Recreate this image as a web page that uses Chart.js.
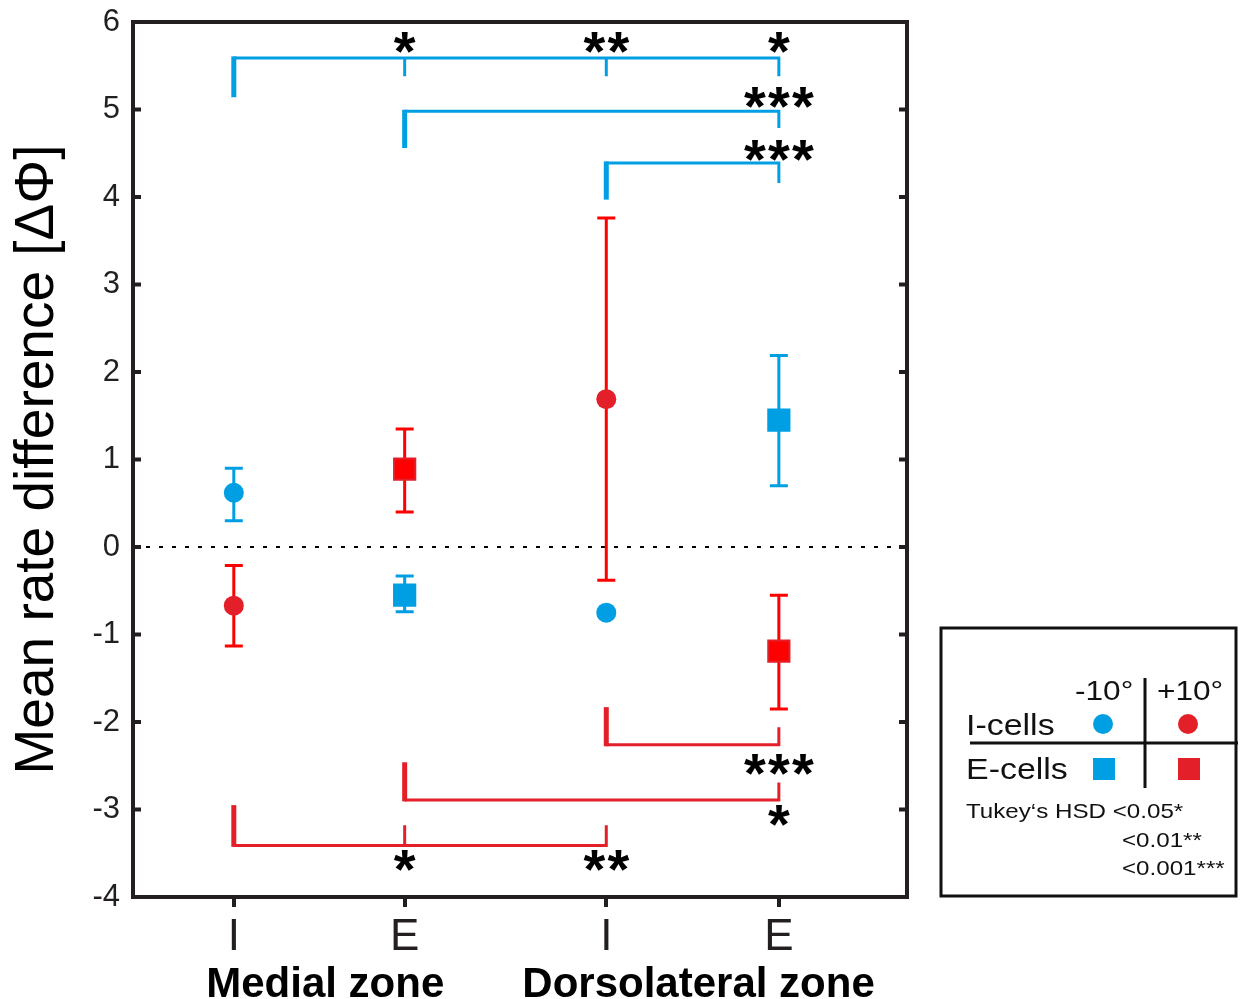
<!DOCTYPE html>
<html>
<head>
<meta charset="utf-8">
<script src="https://cdn.jsdelivr.net/npm/chart.js@4.4.1/dist/chart.umd.min.js"></script>
<style>
  body { margin: 0; background: #fff; }
  #wrap { width: 1240px; height: 999px; }
</style>
</head>
<body>
<div id="wrap"><canvas id="chart" width="1240" height="999"></canvas></div>
<script>
// x axis: cell type inside each zone
const categories = ['I', 'E', 'I', 'E'];
const xPos = [1, 2, 3.18, 4.19];
const zones = ['Medial zone', 'Dorsolateral zone'];

// I-cells (circles): medial I, dorsolateral I
const iCats = [0, 2];
const iMinus = [0.62, -0.75];      // -10°
const iMinusLo = [0.30, -0.75];
const iMinusHi = [0.90, -0.75];
const iPlus = [-0.67, 1.69];       // +10°
const iPlusLo = [-1.13, -0.38];
const iPlusHi = [-0.21, 3.76];

// E-cells (squares): medial E, dorsolateral E
const eCats = [1, 3];
const eMinus = [-0.55, 1.45];      // -10°
const eMinusLo = [-0.74, 0.70];
const eMinusHi = [-0.33, 2.19];
const ePlus = [0.89, -1.19];       // +10°
const ePlusLo = [0.40, -1.85];
const ePlusHi = [1.35, -0.55];

// comparison brackets: [from, to, level, start end, far end, middle ticks]
const blueBrackets = [
  [0, 3, 5.59, 5.14, 5.38, [1, 2]],
  [1, 3, 4.98, 4.56, 4.79, []],
  [2, 3, 4.39, 3.97, 4.16, []]
];
const redBrackets = [
  [2, 3, -2.26, -1.83, -2.06, []],
  [1, 3, -2.89, -2.46, -2.69, []],
  [0, 2, -3.41, -2.95, -3.18, [1]]
];
// significance marks: [category, y, text]
const stars = [
  [1, 5.77, '*'], [2, 5.77, '**'], [3, 5.77, '*'],
  [3, 5.14, '***'], [3, 4.53, '***'],
  [3, -2.48, '***'], [3, -3.07, '*'],
  [1, -3.58, '*'], [2, -3.58, '**']
];

const FONT = "'Liberation Sans', Arial, Helvetica, sans-serif";
const BLUE = '#009fe3';
const RED = '#e3202a';
const RED_BAR = '#ff0000';
const INK = '#231f20';

const series = [
  { label: 'I-cells -10°', cats: iCats, vals: iMinus, lo: iMinusLo, hi: iMinusHi, fill: BLUE, edge: BLUE, bar: BLUE, style: 'circle', r: 10 },
  { label: 'I-cells +10°', cats: iCats, vals: iPlus, lo: iPlusLo, hi: iPlusHi, fill: RED, edge: RED, bar: RED_BAR, style: 'circle', r: 10 },
  { label: 'E-cells -10°', cats: eCats, vals: eMinus, lo: eMinusLo, hi: eMinusHi, fill: BLUE, edge: BLUE, bar: BLUE, style: 'rect', r: 15 },
  { label: 'E-cells +10°', cats: eCats, vals: ePlus, lo: ePlusLo, hi: ePlusHi, fill: RED_BAR, edge: RED, bar: RED_BAR, style: 'rect', r: 15 }
];

function wideText(ctx, text, x, y, sx) {
  ctx.save();
  ctx.translate(x, y);
  ctx.scale(sx, 1);
  ctx.fillText(text, 0, 0);
  ctx.restore();
}

// error bars, zero line and brackets under the markers
const underPlugin = {
  id: 'under',
  beforeDatasetsDraw(chart) {
    const ctx = chart.ctx;
    const xs = chart.scales.x, ys = chart.scales.y;
    const area = chart.chartArea;
    ctx.save();

    // dotted zero line
    ctx.strokeStyle = '#000';
    ctx.lineWidth = 2;
    ctx.setLineDash([4, 9]);
    ctx.beginPath();
    ctx.moveTo(area.left, ys.getPixelForValue(0));
    ctx.lineTo(area.right, ys.getPixelForValue(0));
    ctx.stroke();
    ctx.setLineDash([]);

    // error bars
    ctx.lineWidth = 3;
    series.forEach(s => {
      s.cats.forEach((c, i) => {
        if (s.lo[i] === s.hi[i]) return;
        const x = xs.getPixelForValue(xPos[c]);
        const y1 = ys.getPixelForValue(s.lo[i]);
        const y2 = ys.getPixelForValue(s.hi[i]);
        ctx.strokeStyle = s.bar;
        ctx.beginPath();
        ctx.moveTo(x, y1); ctx.lineTo(x, y2);
        ctx.moveTo(x - 9, y1); ctx.lineTo(x + 9, y1);
        ctx.moveTo(x - 9, y2); ctx.lineTo(x + 9, y2);
        ctx.stroke();
      });
    });

    // brackets
    const drawBrackets = (list, color) => {
      ctx.strokeStyle = color;
      list.forEach(([from, to, level, startY, endY, mids]) => {
        const x0 = xs.getPixelForValue(xPos[from]);
        const x1 = xs.getPixelForValue(xPos[to]);
        const yl = ys.getPixelForValue(level);
        const ye = ys.getPixelForValue(endY);
        const y0 = ys.getPixelForValue(startY);
        ctx.lineWidth = 3;
        ctx.lineJoin = 'miter';
        ctx.beginPath();
        ctx.moveTo(x0, yl); ctx.lineTo(x1, yl); ctx.lineTo(x1, ye);
        ctx.stroke();
        mids.forEach(m => {
          const xm = xs.getPixelForValue(xPos[m]);
          ctx.beginPath();
          ctx.moveTo(xm, yl); ctx.lineTo(xm, ye);
          ctx.stroke();
        });
        const dir = Math.sign(yl - y0);
        ctx.lineWidth = 5;
        ctx.beginPath();
        ctx.moveTo(x0, y0); ctx.lineTo(x0, yl + dir * 1.5);
        ctx.stroke();
      });
    };
    drawBrackets(blueBrackets, BLUE);
    drawBrackets(redBrackets, RED);
    ctx.restore();
  }
};

// frame, ticks, stars, zone names and the legend box
const overPlugin = {
  id: 'over',
  afterDraw(chart) {
    const ctx = chart.ctx;
    const xs = chart.scales.x, ys = chart.scales.y;
    const a = chart.chartArea;
    ctx.save();

    // axes frame with inward ticks
    ctx.strokeStyle = INK;
    ctx.lineWidth = 4;
    ctx.strokeRect(a.left, a.top, a.right - a.left, a.bottom - a.top);
    ys.ticks.forEach(t => {
      const y = ys.getPixelForValue(t.value);
      ctx.beginPath();
      ctx.moveTo(a.left, y); ctx.lineTo(a.left + 8, y);
      ctx.moveTo(a.right - 8, y); ctx.lineTo(a.right, y);
      ctx.stroke();
    });

    // significance stars
    ctx.fillStyle = '#000';
    ctx.font = 'bold 56px ' + FONT;
    ctx.textAlign = 'center';
    ctx.textBaseline = 'alphabetic';
    const m = ctx.measureText('*');
    const shift = (m.actualBoundingBoxAscent - m.actualBoundingBoxDescent) / 2;
    stars.forEach(([c, v, txt]) => {
      const xc = xs.getPixelForValue(xPos[c]);
      const yc = ys.getPixelForValue(v) + shift;
      const step = 24;
      for (let k = 0; k < txt.length; k++) {
        ctx.fillText(txt[k], xc + (k - (txt.length - 1) / 2) * step, yc);
      }
    });

    // zone names under the tick labels
    ctx.font = 'bold 42px ' + FONT;
    ctx.fillStyle = '#000';
    zones.forEach((z, i) => {
      const xc = (xs.getPixelForValue(xPos[2 * i]) + xs.getPixelForValue(xPos[2 * i + 1])) / 2;
      ctx.fillText(z, xc + 6, 997);
    });

    // legend box
    ctx.strokeStyle = '#111';
    ctx.lineWidth = 3;
    ctx.strokeRect(941, 628, 295, 268);
    ctx.beginPath();
    ctx.moveTo(970, 743); ctx.lineTo(1238, 743);
    ctx.moveTo(1145, 678); ctx.lineTo(1145, 788);
    ctx.stroke();

    ctx.fillStyle = '#111';
    ctx.textAlign = 'left';
    ctx.font = '27px ' + FONT;
    wideText(ctx, '-10°', 1075, 700, 1.17);
    wideText(ctx, '+10°', 1157, 700, 1.17);
    ctx.font = '29px ' + FONT;
    wideText(ctx, 'I-cells', 966, 735, 1.17);
    wideText(ctx, 'E-cells', 966, 779, 1.17);
    ctx.font = '21px ' + FONT;
    wideText(ctx, 'Tukey‘s HSD <0.05*', 966, 818, 1.15);
    wideText(ctx, '<0.01**', 1122, 847, 1.15);
    wideText(ctx, '<0.001***', 1122, 875, 1.15);

    ctx.fillStyle = BLUE;
    ctx.beginPath(); ctx.arc(1103, 724, 10, 0, Math.PI * 2); ctx.fill();
    ctx.fillRect(1093, 758, 22, 22);
    ctx.fillStyle = RED;
    ctx.beginPath(); ctx.arc(1188, 724, 10, 0, Math.PI * 2); ctx.fill();
    ctx.fillRect(1178, 758, 22, 22);

    ctx.restore();
  }
};

const datasets = series.map(s => ({
  label: s.label,
  data: s.cats.map((c, i) => ({ x: xPos[c], y: s.vals[i] })),
  pointStyle: s.style,
  pointRadius: s.r,
  backgroundColor: s.fill,
  borderColor: s.edge,
  borderWidth: s.style === 'rect' ? 2 : 0
}));

new Chart(document.getElementById('chart'), {
  type: 'scatter',
  data: { datasets: datasets },
  options: {
    responsive: false,
    animation: false,
    layout: { padding: { top: 22, right: 333, bottom: 0, left: 0 } },
    plugins: { legend: { display: false }, tooltip: { enabled: false } },
    scales: {
      x: {
        type: 'linear',
        min: 0.41,
        max: 4.94,
        afterFit: s => { s.height = 102; },
        afterBuildTicks: s => { s.ticks = xPos.map(v => ({ value: v })); },
        ticks: {
          callback: (v, i) => categories[i],
          font: { family: FONT, size: 44 },
          color: INK,
          padding: 4,
          maxRotation: 0,
          autoSkip: false
        },
        grid: { drawOnChartArea: false, drawTicks: true, tickLength: 10, lineWidth: 4, color: INK },
        border: { display: false }
      },
      y: {
        min: -4,
        max: 6,
        afterFit: s => { s.width = 133; },
        ticks: { stepSize: 1, font: { family: FONT, size: 31 }, color: INK, padding: 0 },
        // invisible tick marks only push the labels away from the axis
        grid: { display: true, drawOnChartArea: false, drawTicks: true, tickLength: 13, color: 'rgba(0,0,0,0)' },
        border: { display: false },
        title: {
          display: true,
          text: 'Mean rate difference [ΔΦ]',
          font: { family: FONT, size: 55 },
          color: '#000',
          padding: { top: 5, bottom: 0 }
        }
      }
    }
  },
  plugins: [underPlugin, overPlugin]
});
</script>
</body>
</html>
